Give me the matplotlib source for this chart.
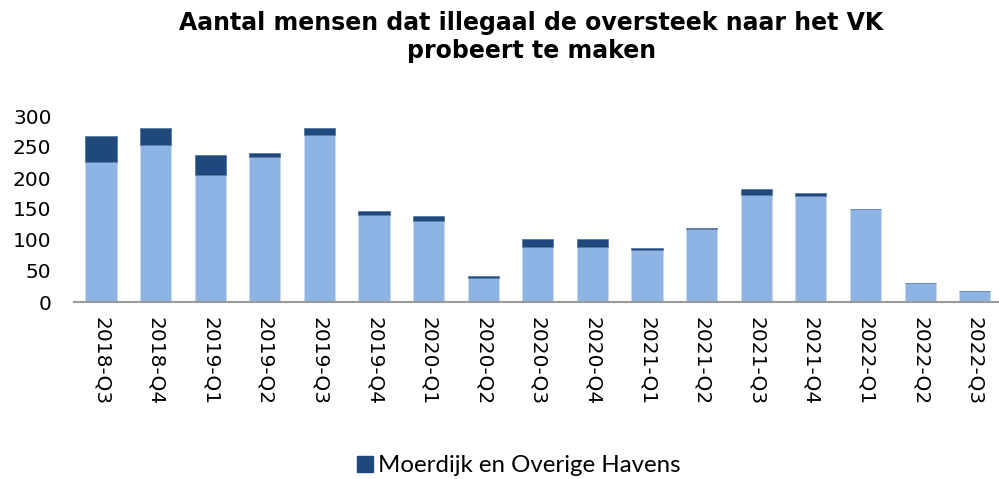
import matplotlib
matplotlib.use("Agg")
import matplotlib.pyplot as plt
from matplotlib.lines import Line2D

categories = ["2018-Q3", "2018-Q4", "2019-Q1", "2019-Q2", "2019-Q3", "2019-Q4",
              "2020-Q1", "2020-Q2", "2020-Q3", "2020-Q4", "2021-Q1", "2021-Q2",
              "2021-Q3", "2021-Q4", "2022-Q1", "2022-Q2", "2022-Q3"]
other_ports = [226, 254, 205, 234, 270, 141, 131, 38, 88, 88, 84, 117, 172, 171, 150, 31, 18]
moerdijk = [42, 27, 32, 7, 11, 6, 7, 4, 14, 14, 3, 2, 10, 4, 0, 0, 0]
yticks = [0, 50, 100, 150, 200, 250, 300]

light = "#8EB4E3"
dark = "#1F497D"

fig = plt.figure(figsize=(9.99, 4.79), dpi=100)
ax = fig.add_axes([73.7 / 999, 1 - 302 / 479, (1002 - 73.7) / 999, (302 - 116) / 479])

x = list(range(len(categories)))
ax.bar(x, other_ports, width=0.57, color=light, edgecolor="#C9DAF0", linewidth=0.6)
ax.bar(x, moerdijk, bottom=other_ports, width=0.57, color=dark, edgecolor="#5A7BA3", linewidth=0.6)

ax.set_xlim(-0.5, len(categories) - 0.5)
ax.set_ylim(0, 300)
ax.set_yticks(yticks)
ax.set_yticklabels([str(v) for v in yticks], fontsize=14.5, family="DejaVu Sans")
ax.set_xticks(x)
ax.set_xticklabels(categories, rotation=270, fontsize=14.5, family="DejaVu Sans")
ax.tick_params(axis="x", length=0, pad=11)
ax.tick_params(axis="y", length=0, pad=16)
for s in ["top", "right", "left"]:
    ax.spines[s].set_visible(False)
ax.spines["bottom"].set_color("#9A9A9A")
ax.spines["bottom"].set_linewidth(1.5)

fig.text(0.532, 1 - 37 / 479, "Aantal mensen dat illegaal de oversteek naar het VK\nprobeert te maken",
         ha="center", va="center", fontsize=17, fontweight="bold", family="DejaVu Sans",
         linespacing=1.25)

handle = Line2D([], [], marker="s", linestyle="none", markersize=11, color=dark)
fig.legend([handle], ["Moerdijk en Overige Havens"], loc="center", bbox_to_anchor=(0.517, 1 - 466 / 479),
           frameon=False, prop={"family": "Lato", "size": 17.3}, handletextpad=0.05,
           handlelength=1.0, borderaxespad=0)

fig.savefig("out.png", dpi=100)
